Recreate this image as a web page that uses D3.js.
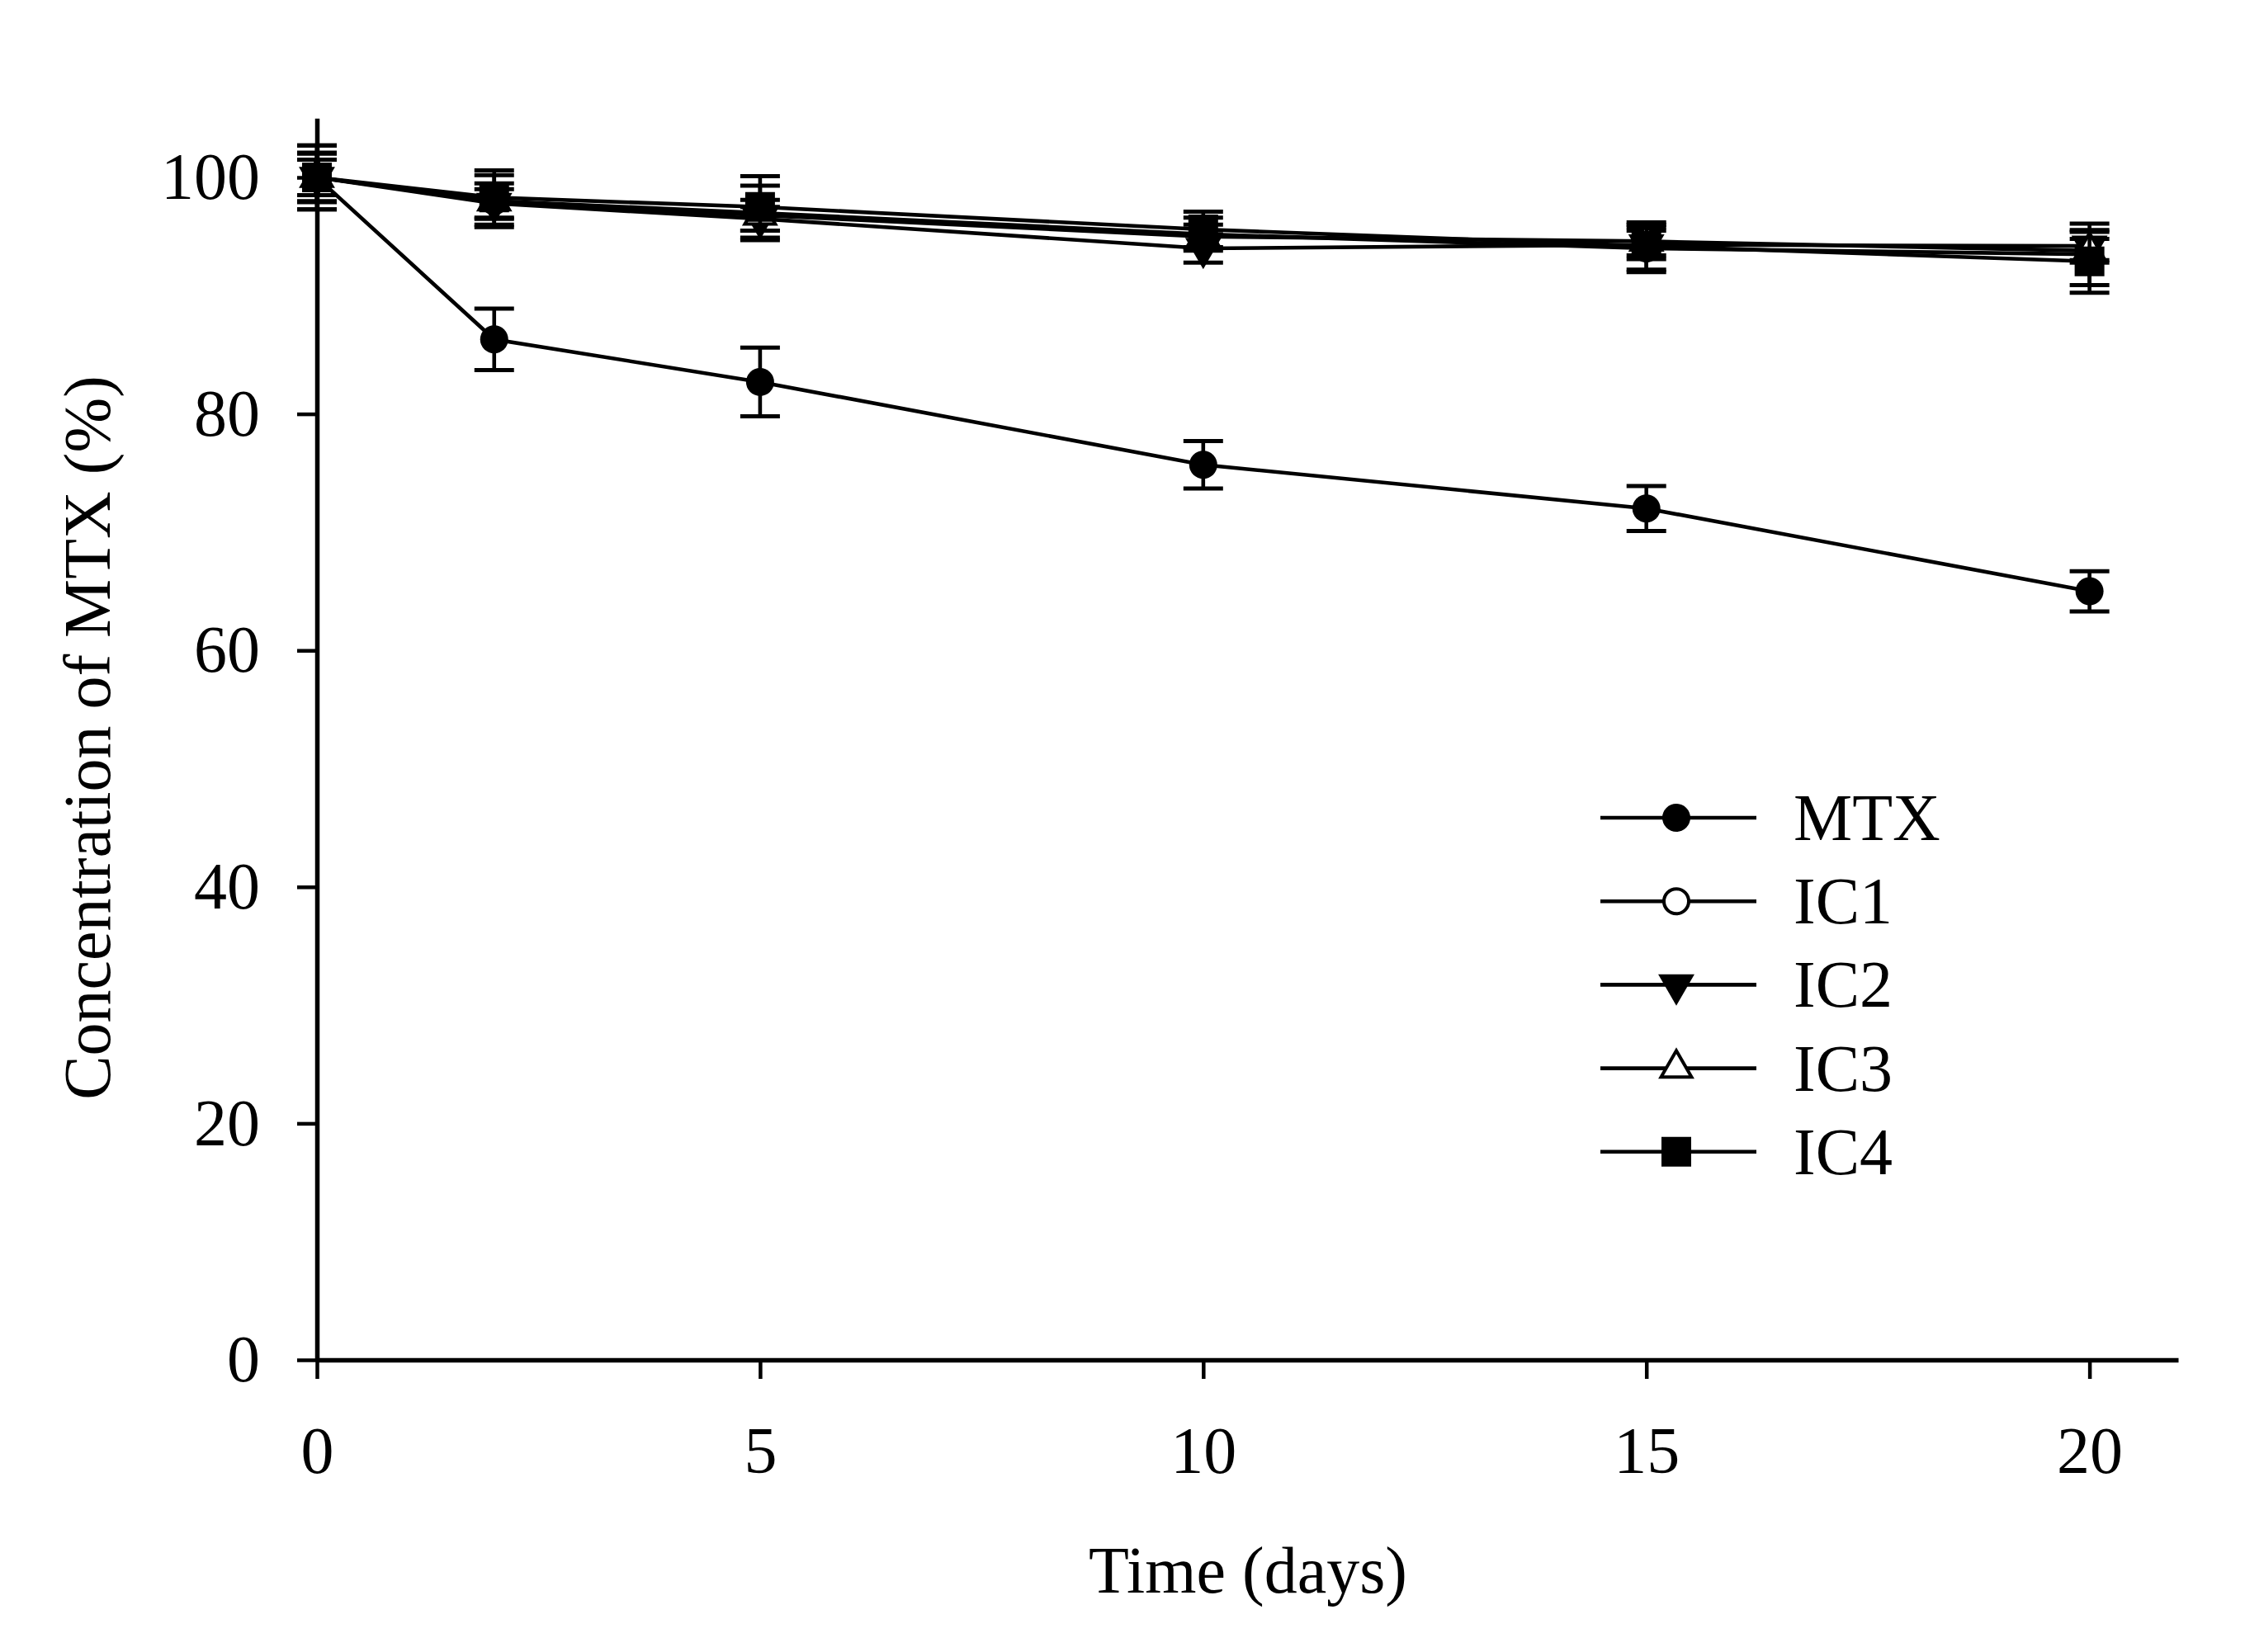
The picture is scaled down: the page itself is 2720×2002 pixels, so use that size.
<!DOCTYPE html>
<html>
<head>
<meta charset="utf-8">
<script src="https://cdn.jsdelivr.net/npm/d3@7/dist/d3.min.js"></script>
<style>
  html, body { margin: 0; padding: 0; background: #fff; }
  svg { display: block; }
  text { font-family: "Liberation Serif", "Times New Roman", serif; fill: #000; }
</style>
</head>
<body>
<svg id="chart" width="2720" height="2002"></svg>
<script>
// ---- data ----
const days = [0, 2, 5, 10, 15, 20];
const seriesNames = ["MTX", "IC1", "IC2", "IC3", "IC4"];
const mtxValues = [100, 86.3, 82.7, 75.7, 72.0, 65.0];
const mtxErrors = [2.7, 2.6, 2.9, 2.0, 1.9, 1.7];
const ic1Values = [100, 98.0, 97.0, 95.2, 94.0, 93.5];
const ic1Errors = [2.1, 2.2, 2.3, 1.4, 2.0, 2.6];
const ic2Values = [100, 97.8, 96.5, 94.0, 94.3, 94.2];
const ic2Errors = [2.0, 1.2, 1.0, 1.2, 1.2, 1.2];
const ic3Values = [100, 98.0, 96.8, 95.0, 94.6, 93.8];
const ic3Errors = [1.5, 1.5, 1.3, 1.0, 1.2, 1.0];
const ic4Values = [100, 98.3, 97.5, 95.6, 94.2, 92.9];
const ic4Errors = [2.7, 2.3, 2.6, 1.5, 2.0, 2.65];
const xTicks = [0, 5, 10, 15, 20];
const yTicks = [0, 20, 40, 60, 80, 100];
const xTitle = "Time (days)";
const yTitle = "Concentration of MTX (%)";

// ---- marker styles ----
const markers = {
  MTX: { type: d3.symbolCircle, size: 908, fill: "#000", stroke: "none", rotate: 0 },
  IC1: { type: d3.symbolCircle, size: 707, fill: "#fff", stroke: "#000", rotate: 0 },
  IC2: { type: d3.symbolTriangle, size: 834, fill: "#000", stroke: "none", rotate: 180 },
  IC3: { type: d3.symbolTriangle, size: 591, fill: "#fff", stroke: "#000", rotate: 0 },
  IC4: { type: d3.symbolSquare, size: 1296, fill: "#000", stroke: "none", rotate: 0 }
};

const seriesData = [
  { name: "MTX", values: mtxValues, errors: mtxErrors },
  { name: "IC1", values: ic1Values, errors: ic1Errors },
  { name: "IC2", values: ic2Values, errors: ic2Errors },
  { name: "IC3", values: ic3Values, errors: ic3Errors },
  { name: "IC4", values: ic4Values, errors: ic4Errors }
];

const svg = d3.select("#chart");
const x = d3.scaleLinear().domain([0, 21]).range([384, 2639]);
const y = d3.scaleLinear().domain([0, 105]).range([1648, 143.35]);
const FS = 80;
const LW = 4.6;

// axes
const xAxis = svg.append("g").attr("transform", `translate(0,${y(0)})`)
  .call(d3.axisBottom(x).tickValues(xTicks).tickSize(23).tickSizeOuter(0).tickPadding(57));
const yAxis = svg.append("g").attr("transform", `translate(${x(0)},0)`)
  .call(d3.axisLeft(y).tickValues(yTicks).tickSize(24).tickSizeOuter(0).tickPadding(45));
[xAxis, yAxis].forEach(g => {
  g.selectAll("path.domain").attr("stroke", "#000").attr("stroke-width", 5.5);
  g.selectAll(".tick line").attr("stroke", "#000").attr("stroke-width", 4.5);
  g.selectAll(".tick text").style("font-size", FS + "px")
    .style("font-family", '"Liberation Serif", "Times New Roman", serif').attr("fill", "#000");
});

// titles
svg.append("text").attr("x", 1512).attr("y", 1930).attr("text-anchor", "middle")
  .style("font-size", FS + "px").text(xTitle);
svg.append("text").attr("transform", "translate(133,894) rotate(-90)").attr("text-anchor", "middle")
  .style("font-size", FS + "px").text(yTitle);

// series
const line = d3.line().x((d, i) => x(days[i])).y(d => y(d));
const capHalf = 24;
seriesData.forEach(s => {
  const g = svg.append("g");
  g.append("path").datum(s.values).attr("d", line)
    .attr("fill", "none").attr("stroke", "#000").attr("stroke-width", LW);
  const eb = g.selectAll("g.eb").data(s.values).enter().append("g");
  eb.append("line")
    .attr("x1", (d, i) => x(days[i])).attr("x2", (d, i) => x(days[i]))
    .attr("y1", (d, i) => y(d + s.errors[i])).attr("y2", (d, i) => y(d - s.errors[i]))
    .attr("stroke", "#000").attr("stroke-width", LW);
  [1, -1].forEach(sign => {
    eb.append("line")
      .attr("x1", (d, i) => x(days[i]) - capHalf).attr("x2", (d, i) => x(days[i]) + capHalf)
      .attr("y1", (d, i) => y(d + sign * s.errors[i])).attr("y2", (d, i) => y(d + sign * s.errors[i]))
      .attr("stroke", "#000").attr("stroke-width", 5);
  });
  const m = markers[s.name];
  g.selectAll("path.mk").data(s.values).enter().append("path")
    .attr("d", d3.symbol().type(m.type).size(m.size))
    .attr("transform", (d, i) => `translate(${x(days[i])},${y(d)}) rotate(${m.rotate})`)
    .attr("fill", m.fill).attr("stroke", m.stroke).attr("stroke-width", 4);
});

// legend
const legendY0 = 991, legendStep = 101.2;
seriesNames.forEach((name, i) => {
  const ly = legendY0 + i * legendStep;
  const g = svg.append("g");
  g.append("line").attr("x1", 1939).attr("x2", 2128).attr("y1", ly).attr("y2", ly)
    .attr("stroke", "#000").attr("stroke-width", LW);
  const m = markers[name];
  g.append("path").attr("d", d3.symbol().type(m.type).size(m.size))
    .attr("transform", `translate(2031,${ly}) rotate(${m.rotate})`)
    .attr("fill", m.fill).attr("stroke", m.stroke).attr("stroke-width", 4);
  g.append("text").attr("x", 2173).attr("y", ly + 27).style("font-size", FS + "px").text(name);
});
</script>
</body>
</html>
